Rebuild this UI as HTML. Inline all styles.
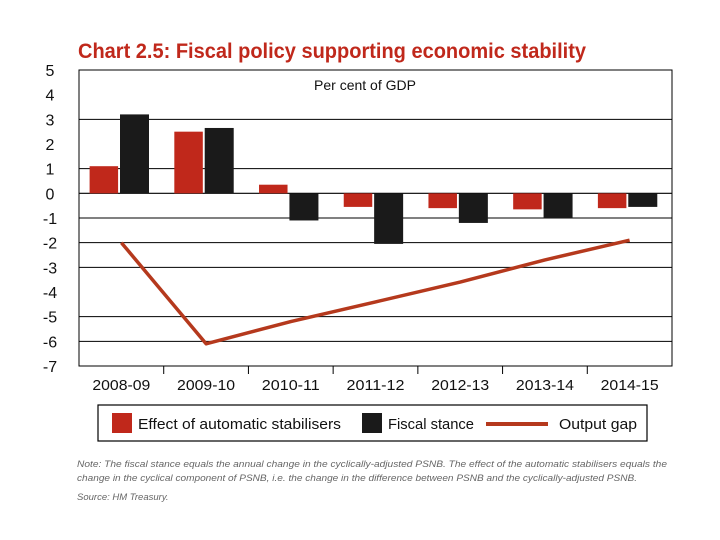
<!DOCTYPE html>
<html><head><meta charset="utf-8"><style>
body{margin:0;background:#fff;width:720px;height:540px;overflow:hidden;font-family:"Liberation Sans",sans-serif}
svg{display:block}
</style></head><body>
<svg width="720" height="540">
<text x="78" y="58" font-size="21" font-weight="bold" fill="#c0281b" textLength="508" lengthAdjust="spacingAndGlyphs">Chart 2.5: Fiscal policy supporting economic stability</text>
<g id="plot"></g>
<g>
<rect x="98" y="405" width="549" height="36" fill="none" stroke="#000" stroke-width="1.2"/>
<rect x="112" y="413" width="20" height="20" fill="#c0281b"/>
<text x="138" y="429" font-size="15" fill="#111" textLength="203" lengthAdjust="spacingAndGlyphs">Effect of automatic stabilisers</text>
<rect x="362" y="413" width="20" height="20" fill="#1a1a1a"/>
<text x="388" y="429" font-size="15" fill="#111" textLength="86" lengthAdjust="spacingAndGlyphs">Fiscal stance</text>
<line x1="486" y1="424" x2="548" y2="424" stroke="#b5391d" stroke-width="4"/>
<text x="559" y="429" font-size="15" fill="#111" textLength="78" lengthAdjust="spacingAndGlyphs">Output gap</text>
</g>
<g font-size="9.5" font-style="italic" fill="#666">
<text x="77" y="467" textLength="590" lengthAdjust="spacingAndGlyphs">Note: The fiscal stance equals the annual change in the cyclically-adjusted PSNB. The effect of the automatic stabilisers equals the</text>
<text x="77" y="481" textLength="560" lengthAdjust="spacingAndGlyphs">change in the cyclical component of PSNB, i.e. the change in the difference between PSNB and the cyclically-adjusted PSNB.</text>
<text x="77" y="500">Source: HM Treasury.</text>
</g>
</svg>
<script>
const categories=["2008-09","2009-10","2010-11","2011-12","2012-13","2013-14","2014-15"];
const stabilisers=[1.1,2.5,0.35,-0.55,-0.6,-0.65,-0.6];
const fiscalStance=[3.2,2.65,-1.1,-2.05,-1.2,-1.0,-0.55];
const outputGap=[-2.0,-6.1,-5.2,-4.4,-3.6,-2.7,-1.9];
const yTicks=[5,4,3,2,1,0,-1,-2,-3,-4,-5,-6,-7];
const gridVals=[3,1,0,-1,-2,-3,-5,-6];
const NS="http://www.w3.org/2000/svg";
const L=79,R=672,T=70,B=366,yMax=5,yMin=-7;
const y=v=>T+(yMax-v)/(yMax-yMin)*(B-T);
const bw=(R-L)/categories.length;
const xBand=i=>L+i*bw;
const g=document.getElementById('plot');
function mk(tag,a){const e=document.createElementNS(NS,tag);for(const k in a)e.setAttribute(k,a[k]);g.appendChild(e);return e;}
let e=mk('rect',{x:L,y:T,width:R-L,height:B-T,fill:"none",stroke:"#000","stroke-width":1});


gridVals.forEach(v=>{const l=mk('line',{x1:L,x2:R,y1:y(v),y2:y(v),stroke:"#000","stroke-width":v===0?1.2:1});

});
yTicks.forEach(v=>{const t=mk('text',{x:50,y:y(v)+6,"font-size":16,fill:"#111","text-anchor":"middle"});t.textContent=v;

});
categories.forEach((c,i)=>{
 if(i>0){const tk=mk('line',{x1:xBand(i),x2:xBand(i),y1:B,y2:B+8,stroke:"#000"});
 
 }
 const t=mk('text',{x:xBand(i)+bw/2,y:B+24,"font-size":15,fill:"#111","text-anchor":"middle",textLength:58,lengthAdjust:"spacingAndGlyphs"});t.textContent=c;
 
 
 const r1=stabilisers[i],r2=fiscalStance[i];
 const a=mk('rect',{x:xBand(i)+10.6,y:Math.min(y(0),y(r1)),width:28.5,height:Math.abs(y(r1)-y(0)),fill:"#c0281b"});
 
 
 const b=mk('rect',{x:xBand(i)+41,y:Math.min(y(0),y(r2)),width:29,height:Math.abs(y(r2)-y(0)),fill:"#1a1a1a"});
 
 
});
const pts=outputGap.map((v,i)=>(xBand(i)+bw/2).toFixed(1)+","+y(v).toFixed(1)).join(" ");
const pl=mk('polyline',{points:pts,fill:"none",stroke:"#b5391d","stroke-width":3.5,"stroke-linejoin":"round"});


const st=mk('text',{x:365,y:90,"font-size":14,fill:"#111","text-anchor":"middle"});st.textContent="Per cent of GDP";


</script>
</body></html>
